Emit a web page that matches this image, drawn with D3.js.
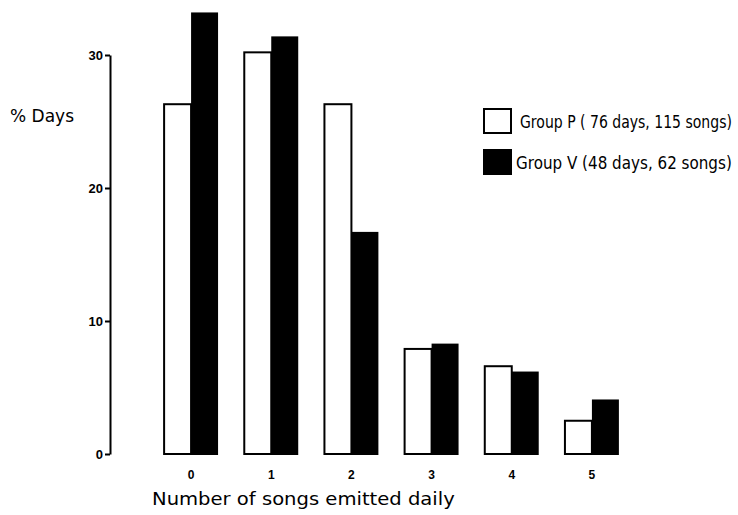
<!DOCTYPE html>
<html>
<head>
<meta charset="utf-8">
<script src="https://cdn.jsdelivr.net/npm/d3@7"></script>
<style>
  body { margin: 0; background: #fff; }
  svg { display: block; }
  text { font-family: "DejaVu Sans", sans-serif; fill: #000; }
</style>
</head>
<body>
<div id="chart"></div>
<script>
// Songs per day, percentage of days for each group.
const categories = ["0", "1", "2", "3", "4", "5"];
const groupP = [26.3, 30.2, 26.3, 7.9, 6.6, 2.5];
const groupV = [33.2, 31.4, 16.7, 8.3, 6.2, 4.1];
const yTicks = [0, 10, 20, 30];
const legendLabels = ["Group P ( 76 days, 115 songs)", "Group V (48 days, 62 songs)"];

const width = 738, height = 515;

const svg = d3.select("#chart").append("svg")
  .attr("width", width)
  .attr("height", height);

// Scale a text horizontally so it spans a given width (keeps the real bbox).
function fitWidth(sel, x0, w) {
  sel.each(function() {
    const t = d3.select(this);
    const k = w / this.getComputedTextLength();
    t.attr("x", x0 / k).attr("transform", `scale(${k},1)`);
  });
}

// Scales
const x = d3.scaleBand()
  .domain(categories)
  .range([151, 632])
  .paddingInner(0.327)
  .paddingOuter(0.1635);

const xSub = d3.scaleBand()
  .domain(["P", "V"])
  .range([0, x.bandwidth()]);

const y = d3.scaleLinear()
  .domain([0, 30])
  .range([454, 55]);

// Build rows for drawing
const rows = categories.map((c, i) => ({ cat: c, P: groupP[i], V: groupV[i] }));

// Bars: white (P) with outline, black (V) solid
const g = svg.append("g");
g.selectAll("rect.p")
  .data(rows)
  .enter()
  .append("rect")
  .attr("class", "p")
  .attr("x", d => x(d.cat) + xSub("P"))
  .attr("y", d => y(d.P))
  .attr("width", xSub.bandwidth())
  .attr("height", d => y(0) - y(d.P))
  .attr("fill", "#fff")
  .attr("stroke", "#000")
  .attr("stroke-width", 2);

g.selectAll("rect.v")
  .data(rows)
  .enter()
  .append("rect")
  .attr("class", "v")
  .attr("x", d => x(d.cat) + xSub("V"))
  .attr("y", d => y(d.V))
  .attr("width", xSub.bandwidth())
  .attr("height", d => y(0) - y(d.V) + 1)
  .attr("fill", "#000");

// Y axis
const yAxis = svg.append("g")
  .attr("transform", "translate(110,0)")
  .call(d3.axisLeft(y).tickValues(yTicks).tickSize(5).tickSizeOuter(0).tickPadding(2));
yAxis.select(".domain").attr("stroke-width", 2);
yAxis.selectAll(".tick line").attr("stroke-width", 2);
yAxis.selectAll(".tick text")
  .style("font-family", "'Liberation Sans', Arial, sans-serif")
  .style("font-weight", "bold")
  .style("font-size", "13px");

// X tick labels (no axis line)
svg.append("g")
  .attr("transform", "translate(0,470)")
  .call(d3.axisBottom(x).tickSize(0).tickPadding(0))
  .call(a => a.select(".domain").remove())
  .selectAll("text")
  .style("font-family", "'Liberation Sans', Arial, sans-serif")
  .style("font-weight", "bold")
  .style("font-size", "12px");

// Axis titles
svg.append("text")
  .attr("y", 505)
  .attr("font-size", 17)
  .text("Number of songs emitted daily")
  .call(fitWidth, 152, 303);

svg.append("text")
  .attr("x", 10)
  .attr("y", 122)
  .attr("font-size", 17)
  .text("% Days");

// Legend
const legend = svg.append("g").attr("transform", "translate(484,109)");
const items = legend.selectAll("g")
  .data(legendLabels)
  .enter()
  .append("g")
  .attr("transform", (d, i) => `translate(0,${i * 41})`);

items.append("rect")
  .attr("width", 27)
  .attr("height", 24)
  .attr("fill", (d, i) => i === 0 ? "#fff" : "#000")
  .attr("stroke", "#000")
  .attr("stroke-width", 2);

items.append("text")
  .attr("y", 19)
  .attr("font-size", 17)
  .text(d => d)
  .each(function(d, i) {
    d3.select(this).call(fitWidth, i === 0 ? 36 : 32, i === 0 ? 212 : 216);
  });
</script>
</body>
</html>
